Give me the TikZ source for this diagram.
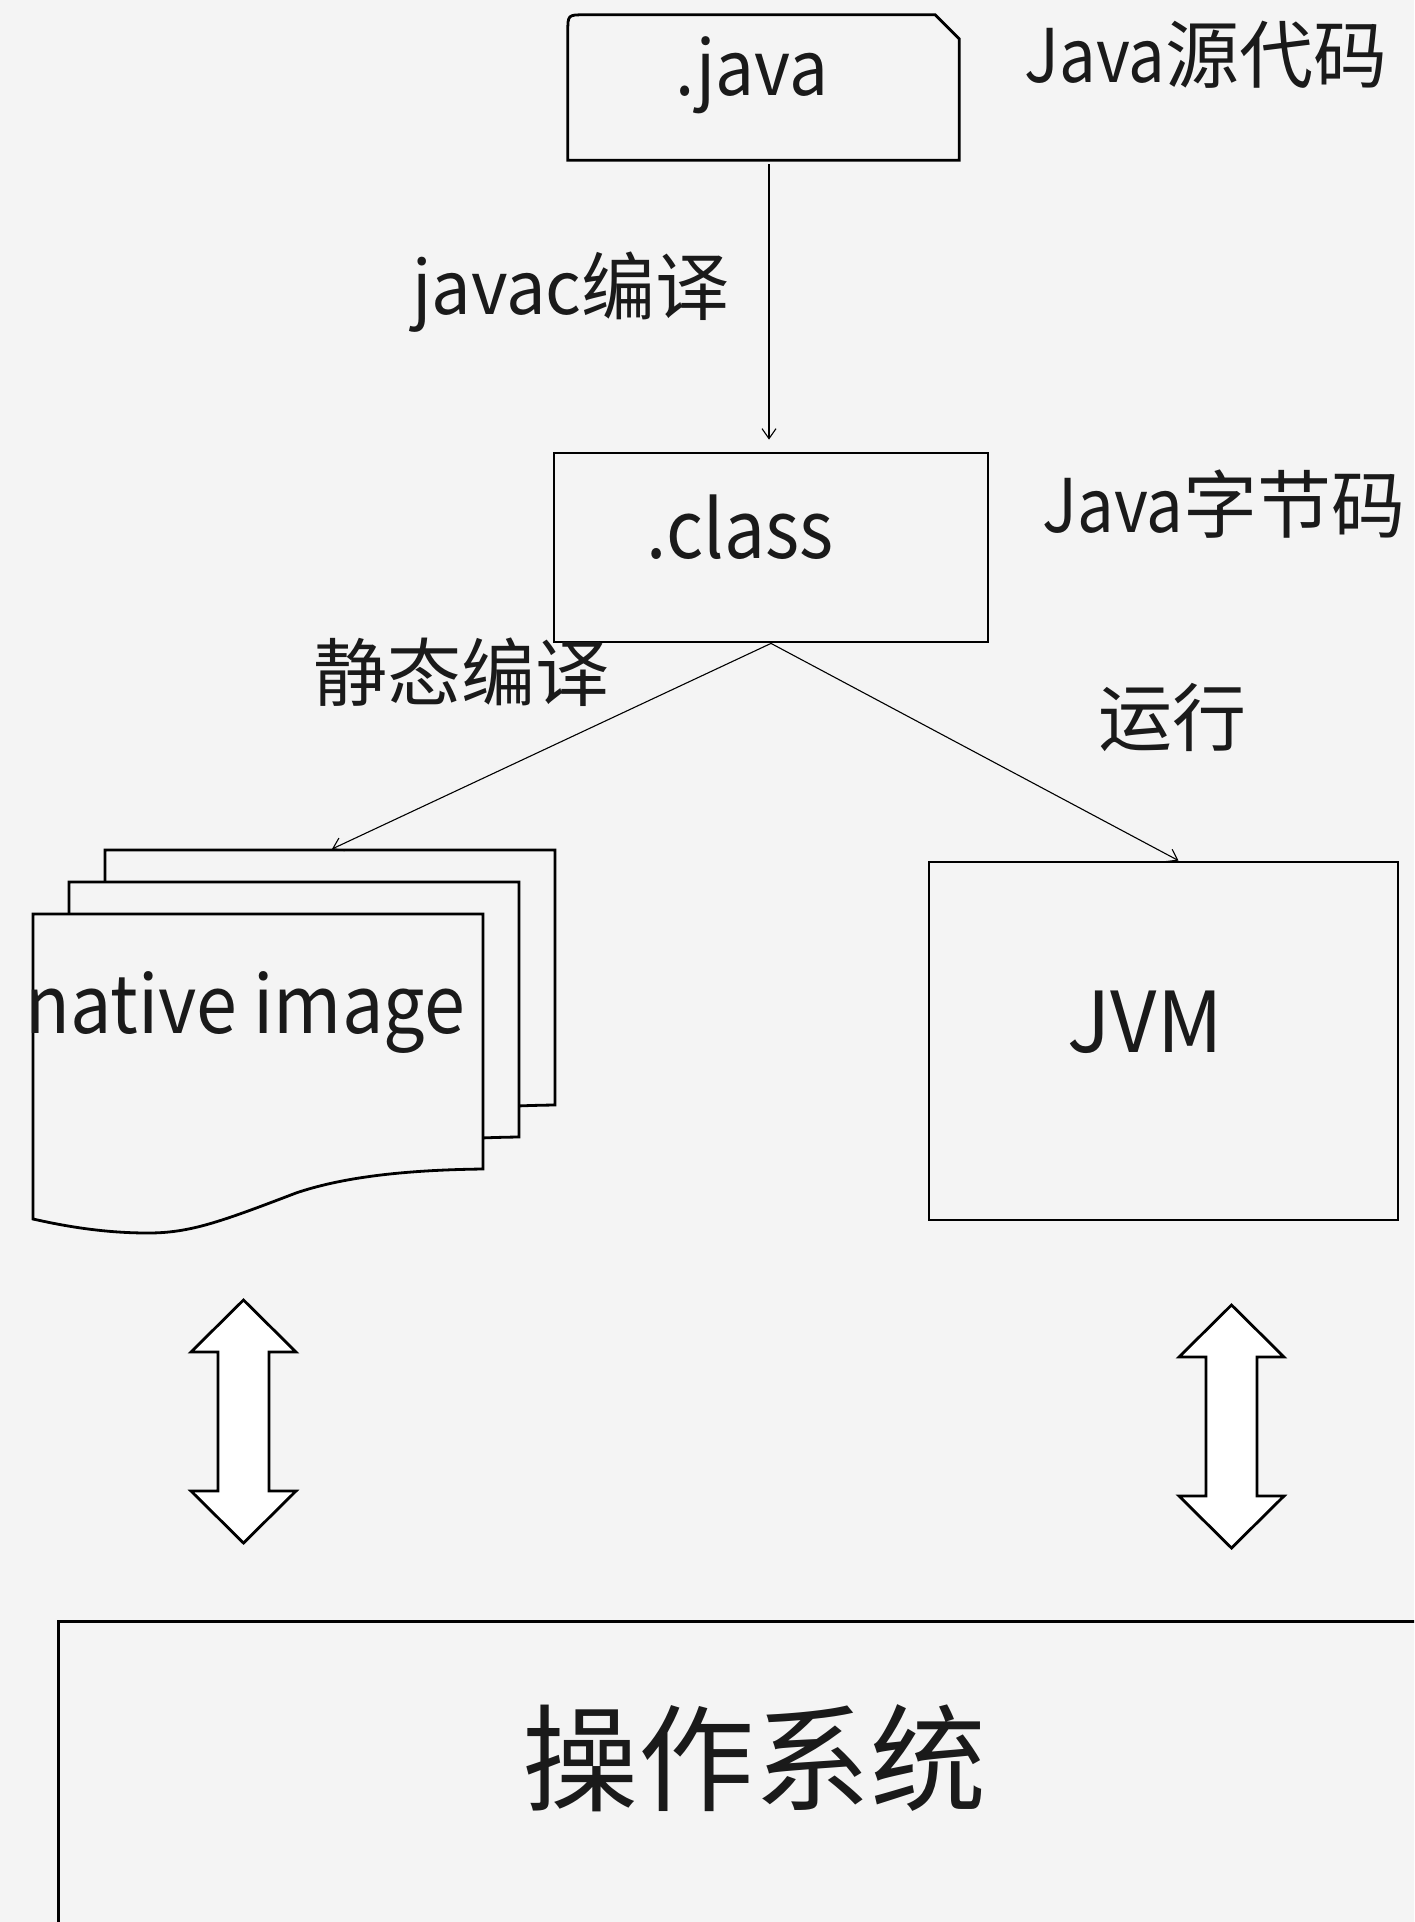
\documentclass[tikz,border=0pt]{standalone}
\usepackage{fontspec}
\usepackage{graphicx}
\setmainfont{Noto Sans CJK SC}
\usetikzlibrary{arrows.meta}
\definecolor{bgc}{HTML}{F4F4F4}
\definecolor{ink}{HTML}{1A1A1A}
\newcommand{\nrw}[2][0.92]{\scalebox{#1}[1]{#2}}

\begin{document}
\begin{tikzpicture}[x=1pt,y=-1pt,
    box/.style={draw, line width=2.8pt, fill=bgc},
    txt/.style={inner sep=0, text=ink, font=\fontsize{#1}{#1}\selectfont},
    txt/.default=74,
    conn/.style={line width=1.1pt, -{Straight Barb[length=10pt,width=14pt,line width=1.1pt]}},
    dblarr/.style={draw, line width=2.8pt, fill=white, line join=miter}]
  \fill[bgc] (0,0) rectangle (1414,1922);
  \useasboundingbox (0,0) rectangle (1414,1922);
  \clip (0,0) rectangle (1414,1922);

  \node[minimum width=391, minimum height=145, inner sep=0] (java) at (763.5,87.5) {};
  \draw[box] (java.south west) -- ([yshift=-17pt]java.north west) .. controls (java.north west) .. ([xshift=17pt]java.north west)
    -- ([xshift=-24pt]java.north east) -- ([yshift=-24pt]java.north east) -- (java.south east) -- cycle;
  \node[txt=76, anchor=base] (javatxt) at (752,95) {\nrw[0.91]{.java}};
  \node[txt, anchor=base] (srclbl) at (1206,82) {\nrw[0.88]{Java}源代码};

  \node[box, minimum width=434, minimum height=189, inner sep=0] (cls) at (771,547.5) {};
  \node[txt=80, anchor=base] (clstxt) at (740,558) {\nrw[0.91]{.class}};
  \node[txt, anchor=base] (javaclbl) at (571,314) {\nrw[0.95]{javac}编译};
  \node[txt, anchor=base] (bytelbl) at (1224,532) {\nrw[0.88]{Java}字节码};

  \foreach \s in {2,1,0}
    \draw[box, shift={(36*\s,-32*\s)}] (33,914) -- (483,914) -- (483,1169)
      .. controls (400,1170) and (340,1178) .. (296,1193)
      .. controls (220,1222) and (190,1233) .. (148,1233)
      .. controls (100,1233) and (60,1225) .. (33,1219) -- cycle;
  \node[txt=80, anchor=base] (nimg) at (245,1033) {\nrw{native image}};
  \coordinate (nimgtop) at (332,849);

  \node[box, minimum width=469, minimum height=358, inner sep=0] (jvm) at (1163.5,1041) {};
  \node[txt=84, anchor=base] (jvmtxt) at (1145,1052) {\nrw[0.96]{JVM}};

  \node[txt] (aotlbl) at (461,672) {静态编译};
  \node[txt] (runlbl) at (1172,717) {运行};

  \draw[conn] ([xshift=5.5pt,yshift=-4pt]java.south) -- ([xshift=-2pt,yshift=12pt]cls.north);
  \draw[conn] (cls.south) -- (nimgtop);
  \draw[conn] (cls.south) -- ([xshift=15pt]jvm.north);

  \foreach \cx/\cy in {243.5/1300, 1231.5/1305}
    \draw[dblarr] (\cx,\cy) -- ++(52.5,52) -- ++(-27,0) -- ++(0,139) -- ++(27,0) -- ++(-52.5,52)
      -- ++(-52.5,-52) -- ++(27,0) -- ++(0,-139) -- ++(-27,0) -- cycle;

  \node[box, minimum width=1400, minimum height=340, anchor=north west, inner sep=0] (os) at (57,1620) {};
  \node[txt=116] (ostxt) at (754,1758) {操作系统};
\end{tikzpicture}
\end{document}
